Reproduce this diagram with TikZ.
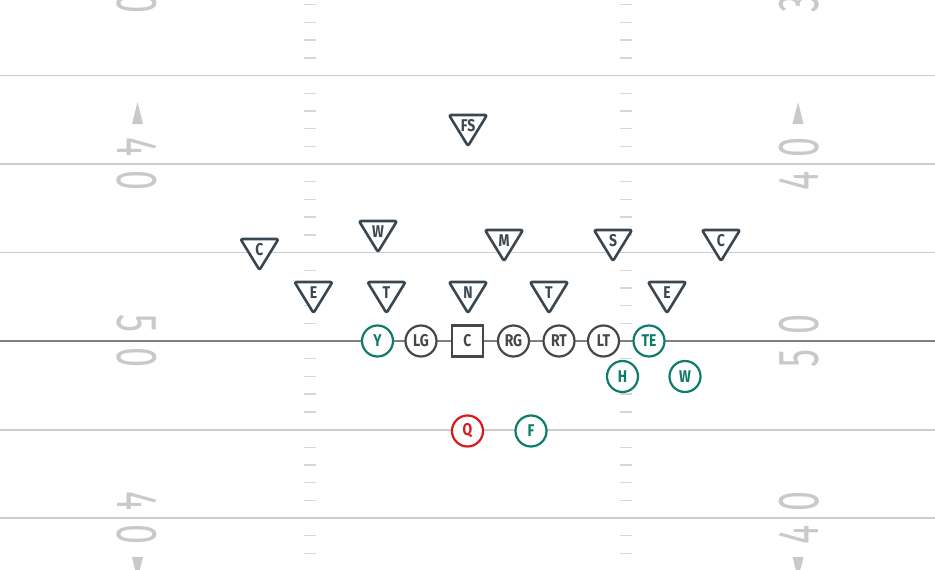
\documentclass[tikz,border=0pt]{standalone}
\usepackage{fontspec}
\usepackage{tikz}
\usetikzlibrary{calc}
\newfontfamily\playerfont[FakeStretch=0.82]{Fira Sans}
\newfontfamily\yardfont[FakeStretch=0.62]{Fira Sans}

\definecolor{defcol}{HTML}{3A4750}
\definecolor{olcol}{HTML}{474747}
\definecolor{skillcol}{HTML}{0E7C6B}
\definecolor{qbcol}{HTML}{E0161B}
\definecolor{linegray}{HTML}{CDCDCD}
\definecolor{scrimgray}{HTML}{808080}
\definecolor{hashgray}{HTML}{D6D6D6}
\definecolor{numgray}{HTML}{C9C9C9}

\tikzset{
  yardline/.style={line width=1.8pt, color=linegray},
  scrimline/.style={line width=1.8pt, color=scrimgray},
  hashtick/.style={line width=1.4pt, color=hashgray},
  yardnum/.style={text=numgray, inner sep=0pt, font=\yardfont\fontsize{58}{58}\selectfont},
  player/.style={circle, draw, fill=white, line width=2.2pt, minimum size=31pt, inner sep=0pt,
    font=\playerfont\bfseries\fontsize{17}{17}\selectfont},
  lineman/.style={player, draw=olcol, text=olcol},
  snapbox/.style={lineman, rectangle},
  skill/.style={player, draw=skillcol, text=skillcol},
  passer/.style={player, draw=qbcol, text=qbcol},
  deftext/.style={inner sep=0pt, text=defcol, font=\playerfont\bfseries\fontsize{17}{17}\selectfont},
  defline/.style={draw=defcol, fill=white, line width=2.6pt, rounded corners=2pt, line join=round}
}

% defender: name, x, y, label
\newcommand{\defender}[4]{%
  \draw[defline] (#2-19,#3-11) -- (#2+19,#3-11) -- (#2,#3+20) -- cycle;
  \node[deftext] (#1) at (#2,#3) {#4};}

\begin{document}
\begin{tikzpicture}[x=1pt,y=-1pt]
\useasboundingbox (0,0) rectangle (935,570);
\clip (0,0) rectangle (935,570);

% field
\foreach \yy in {-13,75.5,164,252.5,430,518}
  \draw[yardline] (0,\yy) -- (935,\yy);
\draw[scrimline] (0,341) -- (935,341);

\foreach \k in {-4,...,2}
  \foreach \j in {1,...,4} {
    \draw[hashtick] (304,341+88.5*\k+17.7*\j) -- (316,341+88.5*\k+17.7*\j);
    \draw[hashtick] (620,341+88.5*\k+17.7*\j) -- (632,341+88.5*\k+17.7*\j);
  }

\foreach \yy/\da/\db [count=\i] in {-13/3/0, 164/4/0, 341/5/0, 518/4/0} {
  \node[yardnum, rotate=-90] (la\i) at (137,\yy-17) {\da};
  \node[yardnum, rotate=-90] (lb\i) at (137,\yy+17) {\db};
  \node[yardnum, rotate=90] (ra\i) at (799,\yy-17) {\db};
  \node[yardnum, rotate=90] (rb\i) at (799,\yy+17) {\da};
}
\foreach \yy in {-13,164} {
  \fill[numgray] (137.5,\yy-62) -- (143,\yy-40) -- (132,\yy-40) -- cycle;
  \fill[numgray] (798,\yy-62) -- (803.5,\yy-40) -- (792.5,\yy-40) -- cycle;
}
\fill[numgray] (137.5,518+61) -- (143,518+39) -- (132,518+39) -- cycle;
\fill[numgray] (798,518+61) -- (803.5,518+39) -- (792.5,518+39) -- cycle;

% defense
\defender{fs}{468}{126}{FS}
\defender{wlb}{378}{232}{W}
\defender{cl}{259.5}{250}{C}
\defender{mlb}{504}{241}{M}
\defender{ss}{613}{241}{S}
\defender{cr}{721}{241}{C}
\defender{el}{313.5}{293}{E}
\defender{tl}{386.5}{293}{T}
\defender{nt}{468}{293}{N}
\defender{tr}{549}{293}{T}
\defender{er}{667}{293}{E}

% offense
\node[skill] (y) at (377.5,341) {Y};
\node[lineman] (lg) at (421,341) {LG};
\node[snapbox] (c) at (467.5,341) {C};
\node[lineman] (rg) at (513.5,341) {RG};
\node[lineman] (rt) at (559,341) {RT};
\node[lineman] (lt) at (603.5,341) {LT};
\node[skill] (te) at (649,341) {TE};
\node[skill] (h) at (622.5,376.5) {H};
\node[skill] (w) at (685,376.5) {W};
\node[passer] (q) at (467.5,431) {Q};
\node[skill] (f) at (531,431) {F};

\end{tikzpicture}
\end{document}
